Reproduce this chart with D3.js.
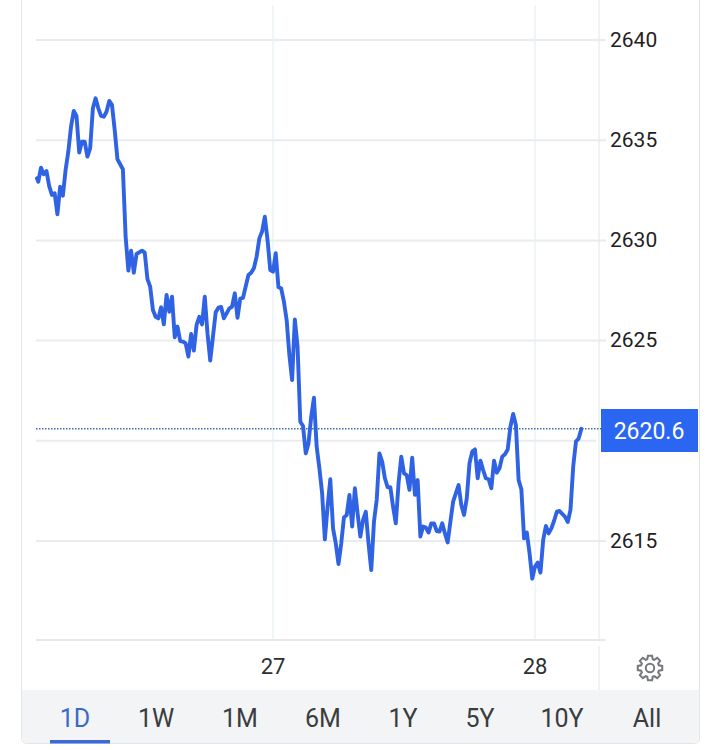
<!DOCTYPE html>
<html><head><meta charset="utf-8">
<script src="https://cdn.jsdelivr.net/npm/d3@7"></script>
<style>html,body{margin:0;padding:0;background:#fff}svg{display:block}text{font-family:Roboto,sans-serif}</style>
</head><body><svg id="c" width="719" height="750"></svg>
<script>
// quarter-hours relative to midnight of the 27th
const quarters = [
-86.5,-86,-85,-84,-83,-82,-81,-80,-79,-78,-77,-76,-75,-74,-73,-72,-71,-70,-69,-68,
-67,-66,-65,-64,-63,-62,-61,-60,-59,-58,-57,-55,-54,-53,-52,-51,-50,-48,-47,-46,
-45,-44,-43,-42,-41,-40,-39,-38,-37,-36,-35,-34,-33,-32,-31,-30,-29,-28,-27,-26,
-25,-24,-23,-22,-21,-20,-19,-18,-16,-15,-14,-13,-12,-11,-9,-8,-7,-6,-5,-4,
-3,-2,-1,0,1,2,3,4,5,6,7,8,9,10,11,12,13,14,15,16,
17,18,19,20,21,22,23,24,25,26,27,28,29,30,31,32,33,34,35,36,
37,38,39,40,41,42,43,44,45,46,47,48,49,50,51,52,53,54,55,56,
57,58,59,60,61,62,63,64,65,66,68,69,70,71,72,73,74,75,76,77,
78,79,80,81,82,83,84,85,86,87,88,89,90,91,92,93,94,95,96,97,
98,99,100,101,102,103,104,105,106,107,108,109,110,111,112,113];
const prices = [
2633.10,2632.93,2633.63,2633.30,2633.46,2632.71,2632.27,2632.35,2631.30,2632.68,2632.23,2633.51,2634.43,2635.68,2636.46,2636.21,2634.38,2634.93,2634.93,2634.18,
2634.59,2636.59,2637.09,2636.59,2636.21,2636.17,2636.42,2636.96,2636.76,2635.51,2634.05,2633.55,2630.19,2628.49,2629.49,2628.39,2629.32,2629.49,2629.39,2628.07,
2627.69,2626.53,2626.19,2626.11,2626.66,2625.81,2627.28,2626.44,2627.19,2625.16,2625.70,2624.98,2624.95,2624.86,2624.20,2625.33,2624.50,2625.78,2626.19,2625.81,
2627.19,2625.36,2624.00,2625.20,2626.41,2626.64,2626.68,2626.11,2626.61,2626.69,2627.36,2626.14,2627.09,2627.13,2628.27,2628.39,2628.61,2629.19,2630.10,2630.44,
2631.18,2630.02,2628.52,2628.44,2629.36,2627.66,2627.61,2626.94,2626.03,2624.28,2623.03,2626.06,2624.70,2620.95,2620.74,2619.37,2619.87,2621.20,2622.15,2619.71,
2618.63,2617.38,2615.08,2616.71,2618.08,2615.63,2614.88,2613.85,2614.88,2616.18,2616.30,2617.30,2615.72,2617.63,2616.38,2615.22,2616.05,2616.46,2614.88,2613.55,
2615.97,2617.05,2619.37,2618.96,2618.13,2617.68,2617.68,2616.71,2615.88,2617.88,2619.21,2618.38,2618.29,2617.55,2619.16,2617.30,2618.04,2615.22,2615.72,2615.67,
2615.42,2615.88,2615.88,2615.50,2615.47,2615.88,2615.38,2614.93,2615.96,2616.96,2617.79,2616.80,2616.30,2617.13,2618.88,2619.46,2619.57,2618.13,2619.01,2618.54,
2618.13,2618.08,2617.63,2619.01,2618.41,2618.63,2619.21,2619.33,2619.57,2620.71,2621.34,2620.79,2618.04,2617.58,2615.13,2615.42,2614.39,2613.12,2613.72,2613.92,
2613.42,2615.05,2615.75,2615.38,2615.63,2616.01,2616.46,2616.50,2616.35,2616.21,2615.95,2616.55,2618.71,2619.96,2620.12,2620.60];
const lastPrice = 2620.6;
const priceTicks = [2615,2620,2625,2630,2635,2640];
const priceTickLabels = ["2615","","2625","2630","2635","2640"];
const dayTicks = [0,96];
const dayLabels = ["27","28"];
const ranges = ["1D","1W","1M","6M","1Y","5Y","10Y","All"];
const rangeCenters = [75,156,240,323,403,480,562,647];

const svg = d3.select("#c");
const x = d3.scaleLinear().domain([0,96]).range([273,535]);
const y = d3.scaleLinear().domain([2615,2640]).range([541,40]);
const pts = quarters.map((q,i)=>[q,prices[i]]);
const plotL=36, plotR=596, axisR=606, sepX=599, plotB=640;

// card frame
svg.append("rect").attr("x",21.5).attr("y",-5).attr("width",678).attr("height",748.5).attr("rx",5)
  .attr("fill","#fff").attr("stroke","#e3e5e7");
svg.append("path").attr("d","M22 690H699V738a5 5 0 0 1 -5 5H27a5 5 0 0 1 -5 -5Z").attr("fill","#f3f4f5");

// grid
const hGrid = svg.append("g").attr("stroke","#e9ecef").attr("stroke-width",2);
hGrid.selectAll("line").data(priceTicks).join("line")
  .attr("x1",plotL).attr("x2",d=>(d===2620?plotR:axisR)).attr("y1",d=>y(d)).attr("y2",d=>y(d));
const vGrid = svg.append("g").attr("stroke","#e6f0f3").attr("stroke-width",1.2);
vGrid.selectAll("line").data(dayTicks).join("line")
  .attr("x1",d=>x(d)).attr("x2",d=>x(d)).attr("y1",5).attr("y2",plotB);
svg.append("line").attr("x1",plotL).attr("x2",axisR).attr("y1",plotB).attr("y2",plotB).attr("stroke","#e6e8ea").attr("stroke-width",2);
svg.append("line").attr("x1",sepX).attr("x2",sepX).attr("y1",0).attr("y2",plotB).attr("stroke","#e6e9ec").attr("stroke-width",1.2);
svg.append("line").attr("x1",sepX).attr("x2",sepX).attr("y1",646).attr("y2",690).attr("stroke","#e6e9ec").attr("stroke-width",1.2);

// last price dotted line
svg.append("line").attr("x1",plotL).attr("x2",601).attr("y1",y(lastPrice)).attr("y2",y(lastPrice))
  .attr("stroke","#3a6ea8").attr("stroke-width",1.4).attr("stroke-dasharray","1.5 1.5");

// series
svg.append("path").attr("fill","none").attr("stroke","#2f63e3").attr("stroke-width",3.9)
  .attr("stroke-linejoin","round").attr("stroke-linecap","round")
  .attr("d",d3.line().x(d=>x(d[0])).y(d=>y(d[1]))(pts));

// price labels
svg.append("g").selectAll("text").data(priceTicks.map((d,i)=>({d,l:priceTickLabels[i]})).filter(o=>o.l)).join("text")
  .attr("x",610).attr("y",o=>y(o.d)+6.8).attr("font-size",21).attr("fill","#1f2124").text(o=>o.l);
svg.append("rect").attr("x",601).attr("y",409).attr("width",97).attr("height",43).attr("fill","#2b66f2");
svg.append("text").attr("x",649).attr("y",439).attr("text-anchor","middle").attr("font-size",23).attr("fill","#fff").text(lastPrice.toFixed(1));

// day labels
svg.append("g").selectAll("text").data(dayTicks).join("text")
  .attr("x",d=>x(d)).attr("y",674).attr("text-anchor","middle").attr("font-size",22).attr("fill","#2c2f33")
  .text((d,i)=>dayLabels[i]);

// gear icon
const gc=[650,668], teeth=8, gearPts=[];
for(let i=0;i<teeth;i++){const a=i*2*Math.PI/teeth;
  [[-0.30,9.2],[-0.17,12.4],[0.17,12.4],[0.30,9.2]].forEach(([da,r])=>gearPts.push([a+da,r]));}
const gear=svg.append("g").attr("transform",`translate(${gc[0]},${gc[1]})`).attr("fill","none").attr("stroke","#75787c").attr("stroke-width",2);
gear.append("path").attr("d",d3.lineRadial().angle(d=>d[0]).radius(d=>d[1]).curve(d3.curveLinearClosed)(gearPts));
gear.append("circle").attr("r",4.2);

// range tabs
svg.append("g").selectAll("text").data(ranges).join("text")
  .attr("x",(d,i)=>rangeCenters[i]).attr("y",727).attr("text-anchor","middle").attr("font-size",25)
  .attr("fill",(d,i)=>i===0?"#3b69c9":"#3a3c3f").text(d=>d);
svg.append("rect").attr("x",50).attr("y",740).attr("width",60).attr("height",3.5).attr("fill","#3b69d6");
</script></body></html>
